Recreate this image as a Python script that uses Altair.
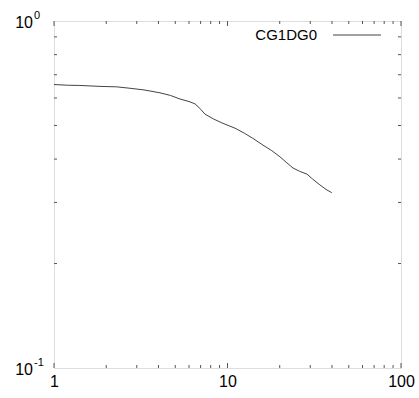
import altair as alt
import pandas as pd

# Series: CG1DG0
x_vals = [1.0, 1.2, 1.41, 1.84, 2.3, 2.74, 3.3, 4.08, 4.7, 5.32, 6.0, 6.5, 7.0, 7.42, 8.3, 9.42, 11.05, 12.5, 14.0, 16.0, 18.0, 20.07, 22.0, 23.85, 26.0, 28.7, 31.0, 34.1, 37.0, 39.9]
y_vals = [0.656, 0.653, 0.652, 0.648, 0.646, 0.640, 0.633, 0.621, 0.610, 0.596, 0.586, 0.577, 0.557, 0.539, 0.522, 0.507, 0.491, 0.475, 0.459, 0.439, 0.423, 0.406, 0.390, 0.377, 0.369, 0.362, 0.350, 0.337, 0.327, 0.320]
series_name = "CG1DG0"

x_major = [1, 10, 100]
x_minor = [2, 3, 4, 5, 6, 7, 8, 9, 20, 30, 40, 50, 60, 70, 80, 90]
y_minor = [0.2, 0.3, 0.4, 0.5, 0.6, 0.7, 0.8, 0.9]

W, H = 347, 347
FONT = "Liberation Sans"
TICK_COLOR = "#555555"

xs = alt.Scale(type="log", domain=[1, 100], nice=False)
ys = alt.Scale(type="log", domain=[0.1, 1], nice=False)
x_axis = alt.Axis(values=x_major, format="d", ticks=False, domain=False,
                  grid=False, labelFont=FONT, labelFontSize=16, labelFlush=False,
                  labelColor="black", labelPadding=5, title=None)

df = pd.DataFrame({"x": x_vals, "y": y_vals})

line = alt.Chart(df).mark_line(color="#444444", strokeWidth=1).encode(
    x=alt.X("x:Q", scale=xs, axis=x_axis),
    y=alt.Y("y:Q", scale=ys, axis=None),
)


def xticks(values, length, top):
    d = pd.DataFrame({"v": values})
    y0, y1 = (0, length) if top else (H, H - length)
    return alt.Chart(d).mark_rule(color=TICK_COLOR, strokeWidth=1).encode(
        x=alt.X("v:Q", scale=xs, axis=x_axis),
        y=alt.value(y0), y2=alt.value(y1))


def yticks(values, length, right):
    d = pd.DataFrame({"v": values})
    x0, x1 = (W, W - length) if right else (0, length)
    return alt.Chart(d).mark_rule(color=TICK_COLOR, strokeWidth=1).encode(
        y=alt.Y("v:Q", scale=ys, axis=None),
        x=alt.value(x0), x2=alt.value(x1))


ticks = [
    xticks(x_major, 5, False), xticks(x_minor, 3, False),
    xticks(x_major, 5, True), xticks(x_minor, 3, True),
    yticks(y_minor, 3, False), yticks(y_minor, 3, True),
]

# y-axis labels as powers of ten with superscript exponents
ylab = pd.DataFrame({"x": [1, 1], "y": [1, 0.1], "base": ["10", "10"], "exp": ["0", "-1"]})
ybase = alt.Chart(ylab).mark_text(font=FONT, fontSize=16, align="right",
                                  baseline="middle", dx=-21, dy=2, color="black").encode(
    x=alt.X("x:Q", scale=xs, axis=x_axis), y=alt.Y("y:Q", scale=ys, axis=None), text="base:N")
yexp = alt.Chart(ylab).mark_text(font=FONT, fontSize=11, align="left",
                                 baseline="middle", dx=-20, dy=-5, color="black").encode(
    x=alt.X("x:Q", scale=xs, axis=x_axis), y=alt.Y("y:Q", scale=ys, axis=None), text="exp:N")

# key in the upper right corner
key_df = pd.DataFrame({"name": [series_name]})
key_text = alt.Chart(key_df).mark_text(font=FONT, fontSize=15, align="right",
                                       baseline="middle", color="black").encode(
    x=alt.value(263), y=alt.value(14), text="name:N")
key_line = alt.Chart(key_df).mark_rule(color="#444444", strokeWidth=1).encode(
    x=alt.value(279), x2=alt.value(327), y=alt.value(14))

chart = alt.layer(line, *ticks, ybase, yexp, key_text, key_line).properties(
    width=W, height=H,
    padding={"left": 54, "top": 21, "right": 18, "bottom": 30},
    autosize="none",
).configure_view(stroke="#555555", strokeWidth=1).configure(background="white")

chart.save("out.html", embed_options={"renderer": "svg", "actions": False})
